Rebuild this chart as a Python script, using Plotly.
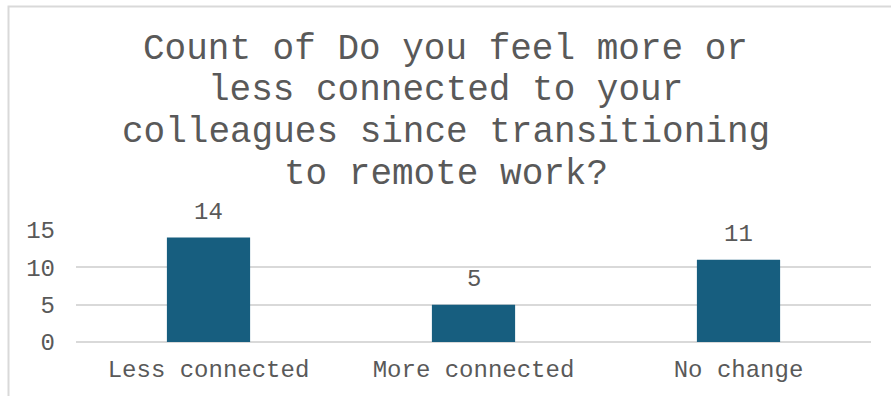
import plotly.graph_objects as go

# Survey responses
categories = ["Less connected", "More connected", "No change"]
counts = [14, 5, 11]
y_ticks = [0, 5, 10, 15]
title_lines = [
    "Count of Do you feel more or",
    "less connected to your",
    "colleagues since transitioning",
    "to remote work?",
]

W, H = 891, 396
ML, MR, MT, MB = 76, 20, 230, 54
PW, PH = W - ML - MR, H - MT - MB

FONT = "Liberation Mono, Courier New, monospace"
GRAY = "#595959"
BAR = "#175E7F"
GRID = "#D9D9D9"


def px_x(x):
    return (x - ML) / PW


def px_y(y):
    return (H - MB - y) / PH


fig = go.Figure(
    go.Bar(
        x=categories,
        y=counts,
        marker=dict(color=BAR, line=dict(width=0)),
        width=0.314,
        cliponaxis=False,
        hoverinfo="x+y",
    )
)

# value labels above the bars
for c, v in zip(categories, counts):
    fig.add_annotation(
        x=c, y=v, xref="x", yref="y", text=str(v), showarrow=False,
        yanchor="middle", yshift=25,
        font=dict(family=FONT, size=24, color=GRAY),
    )

# multi-line chart title, centred on the whole figure
title_centers = [49, 90, 132, 174]
for line, cy in zip(title_lines, title_centers):
    fig.add_annotation(
        x=px_x(445.5), y=px_y(cy), xref="paper", yref="paper", text=line,
        showarrow=False, xanchor="center", yanchor="middle",
        font=dict(family=FONT, size=36, color=GRAY),
    )

# chart area border (left and top edges visible)
fig.add_shape(
    type="rect", xref="paper", yref="paper",
    x0=px_x(8.5), x1=px_x(W + 20), y0=px_y(H + 20), y1=px_y(6.5),
    line=dict(color=GRID, width=2), fillcolor="rgba(0,0,0,0)", layer="below",
)

fig.update_layout(
    width=W, height=H,
    margin=dict(l=ML, r=MR, t=MT, b=MB, pad=0),
    paper_bgcolor="white", plot_bgcolor="white",
    showlegend=False,
    font=dict(family=FONT, size=24, color=GRAY),
    xaxis=dict(
        showgrid=False, showline=False, ticks="", zeroline=False,
        tickfont=dict(family=FONT, size=24, color=GRAY),
        ticklabelstandoff=10,
    ),
    yaxis=dict(
        range=[0, 15], tickvals=y_ticks, showgrid=True, gridcolor=GRID,
        gridwidth=2, zeroline=True, zerolinecolor=GRID, zerolinewidth=2,
        showline=False, ticks="",
        tickfont=dict(family=FONT, size=24, color=GRAY),
        ticklabelstandoff=20,
    ),
)

fig.write_html("out.html")
